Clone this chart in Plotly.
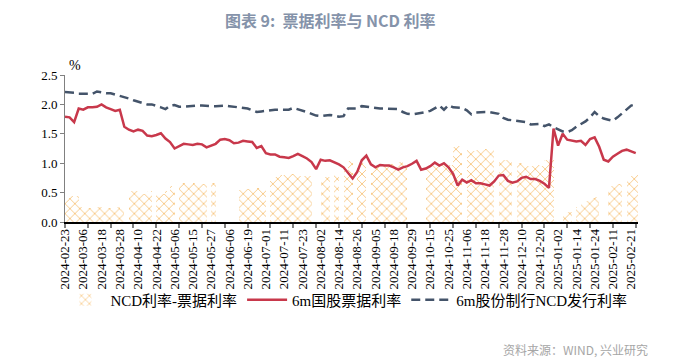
import plotly.graph_objects as go

# trading-day index (every 2nd trading day), 0 = 2024-02-23
day = list(range(0, 251, 2))

tick_labels = [
    "2024-02-23", "2024-03-06", "2024-03-18", "2024-03-28", "2024-04-10", "2024-04-22",
    "2024-05-06", "2024-05-15", "2024-05-27", "2024-06-06", "2024-06-19", "2024-07-01",
    "2024-07-11", "2024-07-23", "2024-08-02", "2024-08-14", "2024-08-26", "2024-09-05",
    "2024-09-18", "2024-09-29", "2024-10-15", "2024-10-25", "2024-11-06", "2024-11-18",
    "2024-11-28", "2024-12-10", "2024-12-20", "2025-01-02", "2025-01-14", "2025-01-24",
    "2025-02-11", "2025-02-21",
]
tick_pos = list(range(0, 249, 8))
minor_tick_pos = list(range(0, 251, 10))

bill_rate = [
    1.79, 1.78, 1.70, 1.93, 1.91, 1.95, 1.95, 1.96, 2.00, 1.95,
    1.92, 1.89, 1.91, 1.62, 1.57, 1.54, 1.57, 1.55, 1.47, 1.46,
    1.48, 1.51, 1.42, 1.36, 1.25, 1.29, 1.33, 1.32, 1.31, 1.33,
    1.32, 1.27, 1.30, 1.33, 1.40, 1.41, 1.39, 1.34, 1.35, 1.38,
    1.37, 1.36, 1.26, 1.29, 1.17, 1.15, 1.15, 1.11, 1.10, 1.09,
    1.12, 1.16, 1.12, 1.08, 1.02, 0.90, 1.06, 1.04, 1.05, 1.02,
    0.98, 0.93, 0.83, 0.74, 0.85, 1.05, 1.13, 0.98, 0.93, 0.97,
    0.96, 0.96, 0.93, 0.89, 0.93, 0.95, 0.99, 1.04, 0.89, 0.91,
    0.95, 1.01, 0.96, 1.00, 0.93, 0.82, 0.62, 0.72, 0.67, 0.71,
    0.66, 0.66, 0.64, 0.62, 0.69, 0.79, 0.80, 0.70, 0.67, 0.69,
    0.75, 0.77, 0.73, 0.73, 0.70, 0.65, 0.58, 1.59, 1.30, 1.50,
    1.40, 1.39, 1.37, 1.38, 1.31, 1.41, 1.44, 1.28, 1.06, 1.03,
    1.11, 1.16, 1.21, 1.23, 1.20, 1.17,
]

ncd_rate = [
    2.21, 2.21, 2.20, 2.18, 2.18, 2.18, 2.18, 2.22, 2.20, 2.19,
    2.19, 2.17, 2.14, 2.12, 2.10, 2.07, 2.05, 2.03, 2.00, 2.00,
    1.98, 1.95, 1.92, 1.98, 1.99, 1.96, 1.96, 1.97, 1.97, 1.98,
    1.98, 1.97, 1.97, 1.97, 1.98, 1.98, 1.97, 1.96, 1.95, 1.94,
    1.93, 1.90, 1.87, 1.88, 1.89, 1.91, 1.91, 1.91, 1.91, 1.91,
    1.94, 1.92, 1.90, 1.87, 1.84, 1.81, 1.80, 1.81, 1.82, 1.81,
    1.79, 1.80, 1.93, 1.93, 1.93, 1.97, 1.96, 1.94, 1.93, 1.93,
    1.93, 1.93, 1.93, 1.92, 1.87, 1.84, 1.83, 1.84, 1.86, 1.87,
    1.89, 1.93, 1.98, 1.91, 1.99, 1.95, 1.94, 1.94, 1.90, 1.83,
    1.86, 1.87, 1.87, 1.87, 1.86, 1.84, 1.77, 1.74, 1.73, 1.72,
    1.72, 1.70, 1.66, 1.67, 1.67, 1.63, 1.66, 1.61, 1.57, 1.54,
    1.53, 1.56, 1.62, 1.67, 1.71, 1.78, 1.87, 1.80, 1.76, 1.74,
    1.72, 1.78, 1.85, 1.91, 1.98, 2.00,
]

spread = [
    0.40, 0.45, 0.45, 0.25, 0.24, 0.23, 0.23, 0.25, 0.22, 0.23,
    0.20, 0.25, 0.22, None, 0.52, 0.53, 0.50, 0.48, 0.52, None,
    0.50, 0.48, 0.52, 0.62, None, 0.66, 0.66, 0.65, 0.66, 0.66,
    0.64, None, 0.66, None, None, None, None, None, 0.54, 0.56,
    0.56, 0.56, 0.58, 0.58, None, 0.70, 0.76, 0.80, 0.81, 0.82,
    0.82, 0.78, 0.78, 0.79, None, None, 0.76, 0.77, None, 0.80,
    None, 0.87, 1.03, None, 0.98, 1.00, None, 0.98, 1.00, 0.98,
    1.00, 0.98, 1.00, 1.02, 0.98, None, None, None, None, 0.96,
    0.95, 0.97, 0.98, 0.96, 0.97, 1.28, 1.30, None, 1.22, 1.20,
    1.22, 1.23, 1.25, 1.24, None, 1.06, 1.05, 1.06, None, 1.00,
    0.98, 0.95, 0.96, 0.97, 0.96, 1.05, 1.06, None, None, 0.15,
    0.17, None, 0.25, 0.30, 0.36, 0.40, 0.43, None, None, 0.62,
    0.68, 0.65, None, 0.76, 0.78, 0.80,
]

SERIF = "Liberation Serif, Noto Sans CJK SC, serif"

# page body has an 8px margin: size the figure so it fits the 685x362 window
W, H = 677, 354
L, R, T, B = 57, 47, 67, 140

fig = go.Figure()
fig.add_trace(go.Bar(
    x=day, y=spread, name="NCD利率-票据利率",
    width=2, offset=0,
    marker=dict(color="white", line=dict(width=0),
                pattern=dict(shape="x", fgcolor="#F08C00", bgcolor="white",
                             size=7, solidity=0.24)),
))
fig.add_trace(go.Scatter(
    x=day, y=bill_rate, name="6m国股票据利率", mode="lines",
    line=dict(color="#C8384B", width=2.5),
))
fig.add_trace(go.Scatter(
    x=day, y=ncd_rate, name="6m股份制行NCD发行利率", mode="lines",
    line=dict(color="#44546A", width=2.5, dash="9px,5px"),
))

fig.update_layout(
    width=W, height=H,
    margin=dict(l=L, r=R, t=T, b=B),
    paper_bgcolor="white", plot_bgcolor="white",
    bargap=0,
    showlegend=True,
    legend=dict(orientation="h", x=-0.008, xanchor="left", y=-0.53, yanchor="middle",
                font=dict(family=SERIF, size=15, color="#000000"),
                itemwidth=40, tracegroupgap=0, bgcolor="rgba(0,0,0,0)"),
    title=dict(text="图表 9:  票据利率与 NCD 利率", x=0.476, xanchor="center",
               y=0.962, yanchor="middle",
               font=dict(family="Noto Sans CJK SC", size=16, color="#8593AA", weight="bold")),
)

fig.update_xaxes(
    range=[0, 251], tickmode="array", tickvals=tick_pos, ticktext=tick_labels,
    tickangle=-90, ticks="", showgrid=False, zeroline=False,
    showline=True, linecolor="#000000", linewidth=1.5,
    tickfont=dict(family=SERIF, size=13, color="#000000"),
    minor=dict(tickmode="array", tickvals=minor_tick_pos, ticks="outside",
               ticklen=4, tickcolor="#808080", tickwidth=1.5, showgrid=False),
)
fig.update_yaxes(
    range=[0, 2.5], tickvals=[0, 0.5, 1.0, 1.5, 2.0, 2.5],
    ticktext=["0.0", "0.5", "1.0", "1.5", "2.0", "2.5"],
    ticks="outside", ticklen=4, tickcolor="#808080", tickwidth=1,
    showgrid=False, zeroline=False,
    showline=True, linecolor="#808080", linewidth=1,
    tickfont=dict(family=SERIF, size=13, color="#000000"),
)

fig.add_annotation(text="%", xref="paper", yref="paper", x=0.003, y=1.0,
                   xanchor="left", yanchor="bottom", showarrow=False,
                   font=dict(family=SERIF, size=14, color="#000000"))
fig.add_annotation(text="资料来源：WIND, 兴业研究", xref="paper", yref="paper",
                   x=1.021, y=-0.866, xanchor="right", yanchor="middle", showarrow=False,
                   font=dict(family="Noto Sans CJK SC", size=12, color="#A6A6A6"))

fig.write_html("out.html")
